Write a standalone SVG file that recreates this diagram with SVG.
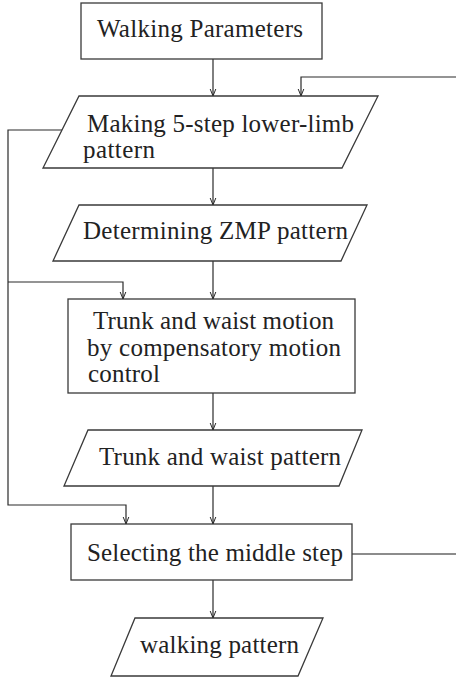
<svg xmlns="http://www.w3.org/2000/svg" width="456" height="684" viewBox="0 0 456 684">
  <defs>
    <marker id="arrow" viewBox="0 0 10 10" refX="10" refY="5" markerWidth="7" markerHeight="8" markerUnits="userSpaceOnUse" orient="auto">
      <path d="M0,1 L10,5 L0,9" fill="none" stroke="#222" stroke-width="1.4"/>
    </marker>
  </defs>
  <style>
    .shape { fill: #fff; stroke: #3a3a3a; stroke-width: 1.3; }
    .wire { fill: none; stroke: #2a2a2a; stroke-width: 1.2; }
    .wire.soft { stroke: #666; stroke-width: 1.4; }
    .label { font-family: "Liberation Serif", "Times New Roman", serif; font-size: 25px; fill: #222; }
  </style>
  <rect width="456" height="684" fill="#fff"/>

  <!-- connectors -->
  <g id="connectors">
    <line class="wire" x1="213" y1="59" x2="213" y2="96" marker-end="url(#arrow)"/>
    <line class="wire" x1="213" y1="168" x2="213" y2="205" marker-end="url(#arrow)"/>
    <line class="wire" x1="213" y1="261" x2="213" y2="299" marker-end="url(#arrow)"/>
    <line class="wire" x1="213" y1="393" x2="213" y2="430" marker-end="url(#arrow)"/>
    <line class="wire" x1="213" y1="486" x2="213" y2="524" marker-end="url(#arrow)"/>
    <line class="wire" x1="213" y1="580" x2="213" y2="618" marker-end="url(#arrow)"/>
    <!-- loop back into the lower-limb step -->
    <polyline class="wire" points="460,77 301,77 301,96" marker-end="url(#arrow)"/>
    <!-- side path feeding the trunk stage and step selection -->
    <polyline class="wire" points="62,130 8,130 8,505 126,505 126,524" marker-end="url(#arrow)"/>
    <polyline class="wire" points="8,282 123,282 123,299" marker-end="url(#arrow)"/>
    <line class="wire soft" x1="352" y1="554" x2="460" y2="554"/>
  </g>

  <g id="walking-parameters">
    <rect class="shape" x="81" y="3" width="241" height="56"/>
    <text class="label" x="97" y="37" textLength="206" lengthAdjust="spacing">Walking Parameters</text>
  </g>

  <g id="lower-limb-pattern">
    <polygon class="shape" points="79,96 378,96 342,168 43,168"/>
    <text class="label" x="87" y="132" textLength="267" lengthAdjust="spacing">Making 5-step lower-limb</text>
    <text class="label" x="83" y="158" textLength="72" lengthAdjust="spacing">pattern</text>
  </g>

  <g id="zmp-pattern">
    <polygon class="shape" points="79,205 367,205 341,261 53,261"/>
    <text class="label" x="83" y="239" textLength="265" lengthAdjust="spacing">Determining ZMP pattern</text>
  </g>

  <g id="compensatory-control">
    <rect class="shape" x="68" y="299" width="287" height="94"/>
    <text class="label" x="93" y="329" textLength="241" lengthAdjust="spacing">Trunk and waist motion</text>
    <text class="label" x="87" y="356" textLength="254" lengthAdjust="spacing">by compensatory motion</text>
    <text class="label" x="88" y="382" textLength="72" lengthAdjust="spacing">control</text>
  </g>

  <g id="trunk-waist-pattern">
    <polygon class="shape" points="88,430 362,430 339,486 64,486"/>
    <text class="label" x="99" y="465" textLength="242" lengthAdjust="spacing">Trunk and waist pattern</text>
  </g>

  <g id="middle-step">
    <rect class="shape" x="71" y="524" width="281" height="56"/>
    <text class="label" x="87" y="561" textLength="256" lengthAdjust="spacing">Selecting the middle step</text>
  </g>

  <g id="walking-pattern">
    <polygon class="shape" points="135,618 323,618 298,676 111,676"/>
    <text class="label" x="140" y="653" textLength="159" lengthAdjust="spacing">walking pattern</text>
  </g>
</svg>
